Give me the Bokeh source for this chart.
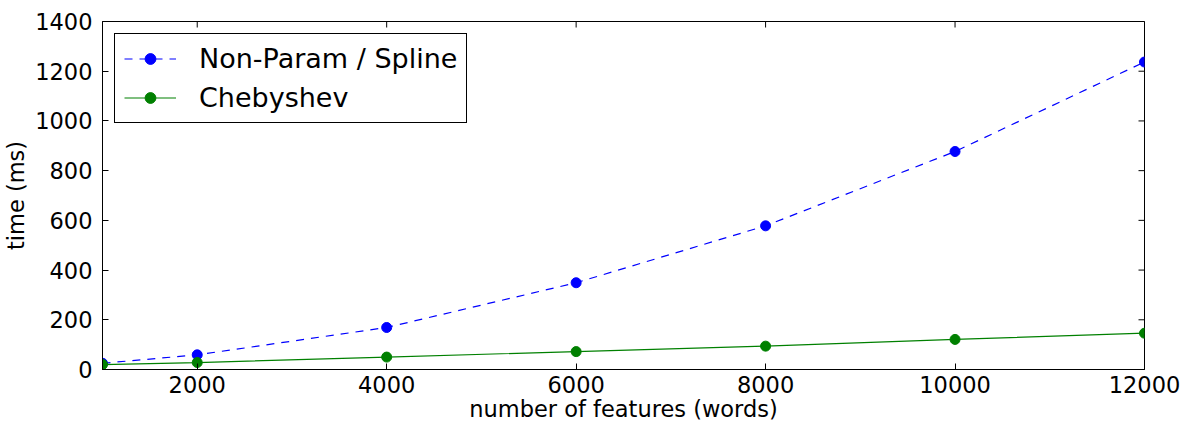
import math
from bokeh.plotting import figure
from bokeh.models import Range1d, FixedTicker, Legend, LegendItem
from bokeh.embed import file_html
from bokeh.resources import INLINE

features = [1000, 2000, 4000, 6000, 8000, 10000, 12000]
spline_ms = [25, 59, 169, 349, 578, 877, 1237]
cheby_ms = [20, 28, 50, 72, 94, 121, 146]
x_ticks = [2000, 4000, 6000, 8000, 10000, 12000]
y_ticks = [0, 200, 400, 600, 800, 1000, 1200, 1400]
x_min, x_max = 1000, 12000
y_min, y_max = 0, 1400

FONT = "DejaVu Sans"

p = figure(width=1185, height=424, output_backend="svg", toolbar_location=None,
           x_range=Range1d(x_min, x_max), y_range=Range1d(y_min, y_max),
           min_border_left=98, min_border_right=41, min_border_top=21, min_border_bottom=55)

p.grid.visible = False
p.outline_line_color = "black"
p.outline_line_width = 1
p.outline_line_alpha = 1
p.background_fill_color = "white"
p.border_fill_color = "white"

def style_axis(ax):
    ax.major_tick_in = 6
    ax.major_tick_out = 0
    ax.minor_tick_in = 0
    ax.minor_tick_out = 0
    ax.axis_line_color = "black"
    ax.major_tick_line_color = "black"
    ax.major_label_text_font = FONT
    ax.major_label_text_color = "black"
    ax.major_label_text_font_size = "22.5px"
    ax.axis_label_text_font = FONT
    ax.axis_label_text_font_style = "normal"
    ax.axis_label_text_color = "black"
    ax.axis_label_text_font_size = "22.5px"

xa = p.xaxis[0]
xa.ticker = FixedTicker(ticks=x_ticks)
xa.axis_label = "number of features (words)"
style_axis(xa)
xa.major_label_standoff = 6
xa.axis_label_standoff = 0

ya = p.yaxis[0]
ya.ticker = FixedTicker(ticks=y_ticks)
ya.axis_label = "time (ms)"
style_axis(ya)
ya.major_label_standoff = 10
ya.axis_label_standoff = 3

# inward ticks on the top and right spines (half of each dash is clipped by the frame)
p.scatter(x_ticks, [y_max] * len(x_ticks), marker="dash", angle=math.pi / 2, size=12,
          line_color="black", line_width=1)
p.scatter([x_max] * len(y_ticks), y_ticks, marker="dash", size=12,
          line_color="black", line_width=1)

l1 = p.line(features, spline_ms, line_color="#0000ff", line_width=1.2, line_dash="8 7")
s1 = p.scatter(features, spline_ms, size=10, fill_color="#0000ff", line_color="#0000ff")
l2 = p.line(features, cheby_ms, line_color="#008000", line_width=1.2)
s2 = p.scatter(features, cheby_ms, size=10, fill_color="#008000", line_color="#008000")

legend = Legend(items=[LegendItem(label="Non-Param / Spline", renderers=[l1, s1]),
                       LegendItem(label="Chebyshev", renderers=[l2, s2])],
                location="top_left")
legend.margin = 12
legend.padding = 9
legend.spacing = 8
legend.glyph_width = 52
legend.glyph_height = 27
legend.label_height = 27
legend.label_standoff = 23
legend.label_text_font = FONT
legend.label_text_font_size = "27px"
legend.label_text_color = "black"
legend.border_line_color = "black"
legend.border_line_width = 1
legend.border_line_alpha = 1
legend.background_fill_color = "white"
legend.background_fill_alpha = 1
p.add_layout(legend, "center")

open("out.html", "w").write(file_html(p, INLINE))
